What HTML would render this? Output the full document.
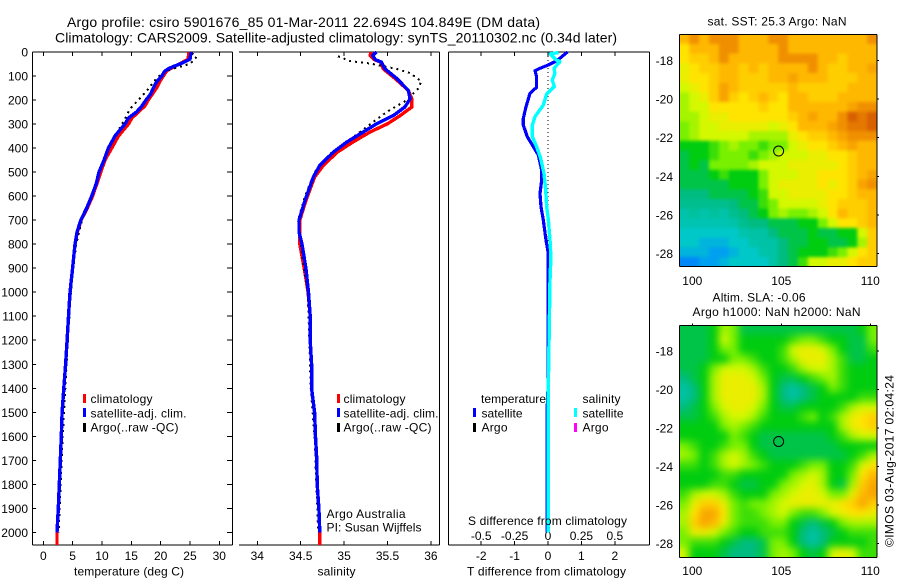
<!DOCTYPE html>
<html lang="en">
<head>
<meta charset="utf-8">
<title>Argo profile csiro 5901676_85</title>
<style>
html,body{margin:0;padding:0;background:#fff}
svg{display:block}
text{font-family:"Liberation Sans",sans-serif;font-size:12px;fill:#000}
.title{font-size:14px}
</style>
</head>
<body>
<svg id="chart" width="900" height="580" viewBox="0 0 900 580" xmlns="http://www.w3.org/2000/svg">
<defs>
<filter id="blurSst" x="-10%" y="-10%" width="120%" height="120%" color-interpolation-filters="sRGB"><feGaussianBlur stdDeviation="1.5"/></filter>
<filter id="blurSla" x="-10%" y="-10%" width="120%" height="120%" color-interpolation-filters="sRGB"><feGaussianBlur stdDeviation="4"/></filter>
<clipPath id="clipSst"><rect x="679.5" y="34.5" width="197.5" height="232"/></clipPath>
<clipPath id="clipSla"><rect x="679.5" y="325.5" width="197.5" height="232"/></clipPath>
</defs>
<rect width="900" height="580" fill="#fff"/>

<text class="title" x="67" y="27" textLength="473">Argo profile: csiro 5901676_85 01-Mar-2011 22.694S 104.849E (DM data)</text>
<text class="title" x="55" y="42.5" textLength="562">Climatology: CARS2009. Satellite-adjusted climatology: synTS_20110302.nc (0.34d later)</text>

<g id="panelT"></g>
<g id="panelS"></g>
<g id="panelD"></g>
<g id="mapSst"></g>
<g id="mapSla"></g>

<text x="74" y="575.5" textLength="110">temperature (deg C)</text>
<text x="317.5" y="575.5" textLength="38">salinity</text>
<text x="467" y="575.5" textLength="159">T difference from climatology</text>
<text x="468" y="525" textLength="159">S difference from climatology</text>

<g>
<rect x="83" y="394" width="3" height="9" fill="#f00"/>
<text x="90.5" y="403" textLength="62">climatology</text>
<rect x="83" y="408" width="3" height="9" fill="#00f"/>
<text x="90.5" y="417.5" textLength="96">satellite-adj. clim.</text>
<rect x="83" y="423" width="3" height="9" fill="#000"/>
<text x="90.5" y="431.5" textLength="88">Argo(..raw -QC)</text>
</g>
<g>
<rect x="337" y="394" width="3" height="9" fill="#f00"/>
<text x="343.5" y="403" textLength="62">climatology</text>
<rect x="337" y="408" width="3" height="9" fill="#00f"/>
<text x="343.5" y="417.5" textLength="95">satellite-adj. clim.</text>
<rect x="337" y="423" width="3" height="9" fill="#000"/>
<text x="343.5" y="431.5" textLength="88">Argo(..raw -QC)</text>
<text x="326.5" y="518" textLength="79">Argo Australia</text>
<text x="326.5" y="531.5" textLength="95">PI: Susan Wijffels</text>
</g>
<g>
<text x="481" y="403" textLength="65">temperature</text>
<rect x="473" y="408" width="3" height="9" fill="#00f"/>
<text x="481.5" y="417.5" textLength="41">satellite</text>
<rect x="473" y="423" width="3" height="9" fill="#000"/>
<text x="481.5" y="431.5" textLength="26">Argo</text>
<text x="582.5" y="403" textLength="38">salinity</text>
<rect x="574" y="408" width="3" height="9" fill="#0ff"/>
<text x="582.5" y="417.5" textLength="41">satellite</text>
<rect x="574" y="423" width="3" height="9" fill="#f0f"/>
<text x="582.5" y="431.5" textLength="26">Argo</text>
</g>

<text x="707.5" y="25.5" textLength="139">sat. SST: 25.3 Argo: NaN</text>
<text x="712.5" y="301.5" textLength="93">Altim. SLA: -0.06</text>
<text x="692.5" y="316" textLength="168">Argo h1000: NaN h2000: NaN</text>
<text transform="translate(893.5,547) rotate(-90)" x="0" y="0" textLength="172">©IMOS 03-Aug-2017 02:04:24</text>
</svg>

<script>
// ---- profile data ----
const depthTickValues = [0,100,200,300,400,500,600,700,800,900,1000,1100,1200,1300,1400,1500,1600,1700,1800,1900,2000];
const tempTickValues = [0,5,10,15,20,25,30];
const salTickValues = [34,34.5,35,35.5,36];
const tDiffTickValues = [-2,-1,0,1,2];
const sDiffTickValues = [-0.5,-0.25,0,0.25,0.5];
const sDiffTickLabels = ["-0.5","-0.25","0","0.25","0.5"];

const tempDepth = [0,30,50,60,70,80,100,125,150,175,200,225,250,275,300,350,400,450,500,550,600,650,700,750,800,900,1000,1100,1200,1300,1400,1500,1600,1700,1800,1900,2000,2053];
const tempClim = [24.8,24.7,23.2,22.4,21.6,21.0,20.45,19.8,19.3,18.6,17.9,17.3,16.2,15.1,14.5,12.8,11.65,10.5,9.8,9.1,8.4,7.5,6.45,5.8,5.4,5.0,4.55,4.3,4.05,3.8,3.5,3.2,3.07,2.9,2.73,2.55,2.33,2.33];
const tempSat = [25.2,25.0,23.3,22.2,21.3,20.7,20.2,19.3,18.75,18.3,17.5,16.8,15.9,14.5,13.9,12.2,11.1,10.35,9.5,9.0,8.25,7.4,6.4,5.75,5.4,5.0,4.55,4.3,4.05,3.8,3.5,3.2,3.07,2.9,2.73,2.55,2.33];
const tempArgoDepth = [5,20,35,50,80,110,160,200,236,278,326,347,400,450,500,600,700,800,900,1000,1200,1400,1600,1800,2000];
const tempArgo = [25.3,26.1,25.7,24.9,20.7,19.3,17.7,16.2,14.8,13.9,12.8,12.2,11.2,10.5,9.6,8.4,6.6,5.6,5.1,4.7,4.2,3.75,3.3,2.95,2.6];

const salDepth = [0,14,32,42,70,111,160,195,229,264,299,333,375,417,472,521,618,700,750,800,900,1000,1100,1200,1300,1400,1500,1600,1700,1800,1900,2000,2053];
const salClim = [35.31,35.30,35.35,35.42,35.45,35.59,35.74,35.78,35.78,35.65,35.50,35.30,35.10,34.92,34.76,34.66,34.56,34.49,34.49,34.49,34.54,34.585,34.61,34.61,34.625,34.625,34.66,34.67,34.685,34.69,34.71,34.72,34.72];
const salSat = [35.375,35.33,35.36,35.43,35.47,35.61,35.74,35.76,35.70,35.57,35.375,35.22,35.03,34.876,34.72,34.645,34.55,34.48,34.48,34.515,34.56,34.59,34.61,34.61,34.625,34.625,34.66,34.67,34.685,34.69,34.71,34.72];
const salArgoDepth = [18,38,48,70,88,122,153,201,250,312,375,424,500,600,700,800,1000,1200,1400,1600,1800,1990];
const salArgo = [34.93,35.07,35.30,35.60,35.76,35.89,35.85,35.72,35.49,35.26,35.03,34.84,34.66,34.55,34.47,34.50,34.58,34.60,34.615,34.66,34.68,34.70];

const tDiffDepth = [0,26,40,54,68,78,103,147,172,228,276,304,353,394,429,492,533,589,644,700,783,839,1000,1400,1500,2000];
const tDiffSat = [0.58,0.36,0.21,0.01,-0.24,-0.39,-0.34,-0.34,-0.54,-0.66,-0.74,-0.74,-0.62,-0.44,-0.29,-0.19,-0.19,-0.24,-0.21,-0.14,-0.06,0.01,0.0,0.0,-0.03,-0.03];
const sDiffDepth = [2,8,33,40,68,89,117,144,175,221,269,304,353,394,443,506,575,644,700,783,853,950,1400,2000];
const sDiffSat = [0.08,0.017,0.06,0.09,0.045,0.052,0.032,0.047,-0.01,-0.035,-0.097,-0.117,-0.117,-0.085,-0.055,-0.03,-0.017,-0.01,0.003,0.015,0.022,0.015,0.002,0.002];
const zeroLineDepth = [0,2000];
const zeroLineDiff = [0,0];

// ---- map data: colour-scale level per grid cell, north to south ----
const mapLonTicks = [100,105,110];
const mapLatTicks = [18,20,22,24,26,28];
const floatLon = 104.849;
const floatLat = 22.694;
const gridCols = 20;
const gridRows = 24;
const sstGrid = [
[8,9,8,9,9,9,8,8,8,9,9,8,8,8,8,8,8,8,8,9],
[7,8,8,8,9,9,8,8,8,8,9,8,8,8,8,8,8,8,8,8],
[7,7.5,7.5,8,9,8,8,8,8,8,9,9,9,9,8,8,7.5,8,8,8],
[6.5,7,7.5,7.5,8,8,7.5,8,7.5,8,8,8,8,9,8,7.5,7.5,8,8,8.5],
[6.5,7,7,7.5,8,8,7.5,7.5,7.5,8,8,8.5,8,8,8,7.5,7.5,7.5,8,8],
[6,6.5,7,7.5,8.5,8,7.5,7.5,7.5,7.5,7.5,8,7.5,7.5,7.5,7.5,7.5,8,8,8],
[5.5,6,6.5,7.5,8.5,7.5,7,7.5,8,7.5,7,8,8,7.5,7.5,7.5,8,8,8,8],
[5.5,6,6,7,7,7,7,7,7.5,7,7,8,8,8,8,8,8,8.5,9,9],
[5.5,5.5,6,6.5,6.5,7,7,7,7,7,7,7.5,8,8.5,8,8,9,10,9.5,10],
[5,5.5,6,6,6.5,6.5,6.5,6.5,6.5,6,6.5,7,8,8,8,8.5,9,9.5,9.5,10],
[5,5.5,6,6,6,6,6,5.5,5.5,5.5,5.5,6.5,7,7.5,7.5,8,8.5,9,9,9],
[4,4,4,4.5,5,5.5,5,5,4.5,5,5,6,6.5,7,7,7.5,8,8.5,8,8],
[3.5,4,4,4.5,5,5,5,4.5,5,5.5,6,6,6,6.5,6.5,7,7,7.5,8,8],
[3.5,4,3.5,5,5,5,5,5.5,6,6,6,6.5,6.5,6.5,6.5,6.5,7,7.5,8,8],
[3.5,3.5,3.5,4,4.5,4,4,4,5,6,6,6,6.5,6.5,7,7,7,7.5,8,8.5],
[3.5,3.5,3.5,3.5,3.5,4,4,4,5,6,6.5,6.5,6.5,6.5,7,6.5,7,7.5,8.5,9],
[3,3,3,3.5,3.5,3.5,3.5,4,4.5,6,6,6.5,6.5,6.5,6.5,7,7,7.5,8,8],
[2.8,2.8,2.8,2.8,2.8,3,3.5,3.5,4.5,5,6,6,6,6,6.5,7,7.5,7.5,7.5,8],
[2.4,2.6,2.4,2.6,2.4,2.8,3,3.5,4,5,5.5,5,5,5.5,6,7,8,7.5,7.5,8],
[2.3,2.3,2.3,2.3,2.3,2.4,2.8,3,3,3.5,3.5,3.5,4,4,5,6,7,7,7.5,8],
[2,2,2,2,2,2,2.4,2.5,2.5,3,3.5,3.5,3.5,4,3.5,3.5,4,4,6,7.5],
[2,2,1.5,1.5,1.5,2,2,2.4,2.5,2.5,3,3.5,3.5,4,4,3.5,3.5,4,5.5,7.5],
[1.5,1.5,1.5,1,1,1.5,2,2,2.4,2.5,3,3.5,4,4,4,4.5,5,6,7,7.5],
[0.5,0.5,1,1,1.5,2,2,2,2,2.5,3,3.5,4.5,6,6,6.5,6.5,7,7.5,7.5]
];
const slaGrid = [
[3.5,3.5,3.5,4,5.5,5,3.5,3.5,3.5,3.5,3.5,3.5,3.5,3.5,3.5,3.5,3.5,3.5,4,5],
[3.5,3.5,3.5,4,6,5,4,4,4,4,4,4.5,5,5,4.5,4,4,3.5,3.5,5],
[3.5,3.5,3.5,4,5,5,4,4,4,4,4.5,6,6.5,6.5,6,5,4,3.5,3.5,4.5],
[3.5,3.5,3.5,4,4,5,5,4.5,4,4,4.5,5.5,6.5,6.5,6.5,5.5,4.5,3.5,3.5,4],
[3.5,3.5,4,5,6,6,6,5.5,4.5,4,4,4.5,5.5,6,6,5.5,4.5,4,4,4],
[3,3.5,4,5.5,6.5,6.5,6.5,6,5,4,3.5,3.5,4,4.5,5,5.5,4.5,4,4,4],
[2.5,3,4,5.5,6.5,6.5,6.5,6.5,5.5,4,3,2.5,3,3.5,4,5,4.5,4,4,4],
[2.5,3,4,5.5,6.5,6.5,6.5,6.5,5.5,4,3,2.5,3,3.5,4,4,4,4,4.5,4.5],
[3,3.5,4,5,6,6.5,6.5,6,5,4,3.5,3.5,4,4,4,4,4.5,5.5,6,6],
[3.5,3.5,4,4.5,5.5,6,6,5.5,4.5,4,4,4,4.5,5,4,4.5,5.5,6.5,7,7.5],
[4,4,4,4,5,5.5,5,4.5,4,4,4,4,4,4,4,4,5.5,6.5,7,7.5],
[4,4,4,4,4,5,4.5,4,3.5,3.5,3.5,3.5,3.5,3.5,3.5,4,4.5,5.5,6,6],
[5,4.5,4,4,4.5,5,5,4,3.5,3.5,3.5,3.5,3.5,3.5,3.5,3.5,4,4,4,4],
[5.5,5,4,4.5,5.5,6,5.5,4.5,4,3.5,3.5,3.5,3.5,3.5,3.5,3.5,3.5,4,4.5,5.5],
[4.5,4.5,4,4.5,5.5,6,5.5,5,4.5,4,4,4,4.5,5,5,4,4,4.5,6,7],
[4,4,4,4,4.5,4.5,4,4,4,4,4,5,5.5,6,5.5,4,4,5,7,8],
[4,4,4,4.5,4.5,4,3.5,3.5,4,4,5,5.5,6,6.5,5.5,4,3.5,5.5,7.5,8.5],
[4.5,5.5,6,6,5.5,4.5,4,4,4,5,5.5,6,6.5,6.5,6,5,5,6.5,8,8.5],
[5,6.5,7.5,7.5,6.5,5,4.5,5,5,5.5,6,6.5,6.5,6.5,6.5,6.5,7,7.5,8.5,7.5],
[5.5,7,8.5,8.5,7,5,4.5,4.5,5,5.5,6,5,4.5,4.5,5,6,6.5,7,7,6.5],
[5.5,7.5,8.5,8,6.5,5,4.5,4.5,4.5,5,5,4,3.5,3,3.5,4,5,5.5,5.5,5.5],
[5,6.5,6.5,6,5,4.5,4,4,4.5,4.5,4.5,4,3,2.5,3,3.5,4,4.5,4.5,4.5],
[5,4.5,4.5,4.5,4,3.5,3,3,3.5,5,5,4,3,2.5,3,4,4,4,4,4.5],
[6,4,4,4,3.5,3,3,3,3.5,5,5.5,5,4,3.5,4,6,6.5,6,4.5,4.5]
];
const colourStops = ["#0070ff","#00a0f0","#00c8c8","#00bc80","#00cc10","#78f000","#d4f800","#ffe400","#ffb800","#f09000","#d86000"];

// ---- axis functions ----
const NS = "http://www.w3.org/2000/svg";
const plotTop = 52, plotBottom = 545;
const yDepth = d => 52 + 0.2402 * d;
const xTemp = t => 43.3 + 5.867 * t;
const xSal = s => 257.3 + 86.8 * (s - 34);
const xTDiff = t => 548 + 33.4 * t;
const xSDiff = s => 548 + 133.6 * s;
const xLon = lon => 692.3 + 17.8 * (lon - 100);
const ySstLat = lat => 60.3 + 19.33 * (lat - 18);
const ySlaLat = lat => 351 + 19.27 * (lat - 18);
const mapLonMin = 99.27, mapLonMax = 110.38, mapLatMin = 16.65, mapLatMax = 28.68;

function mk(tag, attrs, parent) {
  const el = document.createElementNS(NS, tag);
  for (const k in attrs) el.setAttribute(k, attrs[k]);
  parent.appendChild(el);
  return el;
}
function seg(parent, x1, y1, x2, y2) {
  const el = mk("line", {x1, y1, x2, y2, stroke: "#000", "stroke-width": 1, "shape-rendering": "crispEdges"}, parent);
  return el;
}
function label(parent, x, y, str, anchor) {
  const el = mk("text", {x, y, "text-anchor": anchor}, parent);
  el.textContent = str;
  return el;
}
function profile(parent, depths, values, xFn, colour, width, dash) {
  const pts = values.map((v, i) => xFn(v).toFixed(1) + "," + yDepth(depths[i]).toFixed(1)).join(" ");
  const attrs = {points: pts, fill: "none", stroke: colour, "stroke-width": width, "stroke-linejoin": "round", "shape-rendering": "crispEdges"};
  if (dash) attrs["stroke-dasharray"] = dash;
  return mk("polyline", attrs, parent);
}
function frame(parent, l, r, hasLeft) {
  const a = seg(parent, l, plotTop, r, plotTop);
  
  
  const b = seg(parent, l, plotBottom, r, plotBottom);
  
  
  const c = seg(parent, r, plotTop, r, plotBottom);
  
  
  if (hasLeft) {
    const d = seg(parent, l, plotTop, l, plotBottom);
    
    
  }
}
function xAxis(parent, ticks, xFn, labels) {
  ticks.forEach((v, i) => {
    const x = xFn(v);
    const t1 = seg(parent, x, plotTop, x, plotTop + 4);
    
    
    const t2 = seg(parent, x, plotBottom, x, plotBottom - 4);
    
    
    const lb = label(parent, x, 560, labels ? labels[i] : String(v), "middle");
    
    
  });
}

// ---- temperature panel ----
const pT = document.getElementById("panelT");
frame(pT, 32.5, 232.5, true);
xAxis(pT, tempTickValues, xTemp);
depthTickValues.forEach(d => {
  const y = yDepth(d);
  const a = seg(pT, 32.5, y, 36, y);
  
  
  const b = seg(pT, 232.5, y, 227, y);
  
  
  const lb = label(pT, 28, y + 4.5, String(d), "end");
  
  
});
const tRed = profile(pT, tempDepth, tempClim, xTemp, "#f00", 3.4);


const tArgoLine = profile(pT, tempArgoDepth, tempArgo, xTemp, "#000", 2, "2 4");


const tBlue = profile(pT, tempDepth, tempSat, xTemp, "#00f", 3.4);



// ---- salinity panel ----
const pS = document.getElementById("panelS");
frame(pS, 239, 439.5, false);
xAxis(pS, salTickValues, xSal);
const sRed = profile(pS, salDepth, salClim, xSal, "#f00", 3.4);


const sArgoLine = profile(pS, salArgoDepth, salArgo, xSal, "#000", 2, "2 4");


const sBlue = profile(pS, salDepth, salSat, xSal, "#00f", 3.4);



// ---- difference panel ----
const pD = document.getElementById("panelD");
frame(pD, 448.5, 649.5, true);
xAxis(pD, tDiffTickValues, xTDiff);
sDiffTickValues.forEach((v, i) => {
  const lb = label(pD, xSDiff(v), 540, sDiffTickLabels[i], "middle");
  
  
});
const zeroLine = profile(pD, zeroLineDepth, zeroLineDiff, xTDiff, "#000", 1, "1 3");


const dBlue = profile(pD, tDiffDepth, tDiffSat, xTDiff, "#00f", 3.2);


const dCyan = profile(pD, sDiffDepth, sDiffSat, xSDiff, "#0ff", 3.4);



// ---- maps ----
function colourFor(level) {
  const v = Math.max(0, Math.min(colourStops.length - 1, level));
  const i = Math.min(colourStops.length - 2, Math.floor(v));
  const f = v - i;
  const hex = s => [1, 3, 5].map(p => parseInt(s.substr(p, 2), 16));
  const a = hex(colourStops[i]), b = hex(colourStops[i + 1]);
  return "rgb(" + a.map((c, k) => Math.round(c + (b[k] - c) * f)).join(",") + ")";
}
function drawMap(root, grid, yLat, clipId, filterId, cellName, top, bottom, labelY, topTicks) {
  const clip = mk("g", {"clip-path": "url(#" + clipId + ")"}, root);
  
  
  const cells = mk("g", {filter: "url(#" + filterId + ")"}, clip);
  
  
  const dLon = (mapLonMax - mapLonMin) / gridCols;
  const dLat = (mapLatMax - mapLatMin) / gridRows;
  const pad = 14;
  grid.forEach((row, r) => {
    row.forEach((level, c) => {
      let x0 = xLon(mapLonMin + c * dLon), x1 = xLon(mapLonMin + (c + 1) * dLon);
      let y0 = yLat(mapLatMin + r * dLat), y1 = yLat(mapLatMin + (r + 1) * dLat);
      if (c === 0) x0 -= pad;
      if (c === gridCols - 1) x1 += pad;
      if (r === 0) y0 -= pad;
      if (r === gridRows - 1) y1 += pad;
      const cell = mk("rect", {x: x0.toFixed(2), y: y0.toFixed(2), width: (x1 - x0 + 0.4).toFixed(2), height: (y1 - y0 + 0.4).toFixed(2), fill: colourFor(level)}, cells);
      
      
    });
  });
  const l = 679.5, rr = 877;
  const e1 = seg(root, l, top, rr, top);
  
  
  const e2 = seg(root, l, bottom, rr, bottom);
  
  
  const e3 = seg(root, l, top, l, bottom);
  
  
  const e4 = seg(root, rr, top, rr, bottom);
  
  
  mapLatTicks.forEach(lat => {
    const y = yLat(lat);
    const t = seg(root, rr, y, rr + 2, y);
    
    
    const lb = label(root, 673, y + 4.5, "-" + lat, "end");
    
    
  });
  mapLonTicks.forEach(lon => {
    const x = xLon(lon);
    if (topTicks) {
      const t = seg(root, x, top, x, top - 2);
      
      
    }
    const lb = label(root, x, labelY, String(lon), "middle");
    
    
  });
  const marker = mk("circle", {cx: xLon(floatLon), cy: yLat(floatLat), r: 5, fill: "none", stroke: "#000", "stroke-width": 1}, root);
  
  
}
drawMap(document.getElementById("mapSst"), sstGrid, ySstLat, "clipSst", "blurSst", "sst-cell", 34.5, 266.5, 285, false);
drawMap(document.getElementById("mapSla"), slaGrid, ySlaLat, "clipSla", "blurSla", "sla-cell", 325.5, 557.5, 575, true);
</script>
</body>
</html>
